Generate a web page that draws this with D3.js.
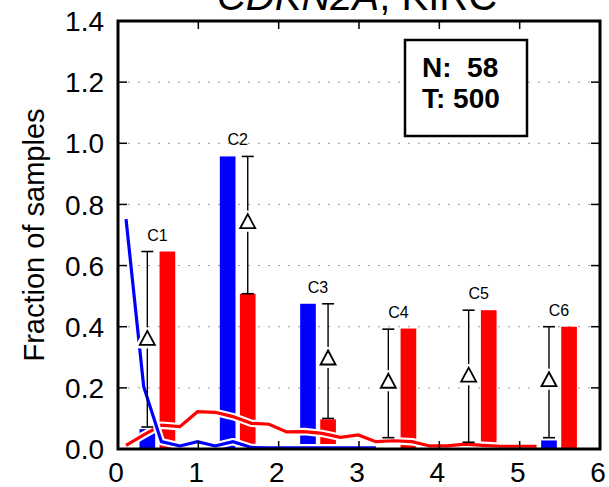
<!DOCTYPE html>
<html><head><meta charset="utf-8">
<script src="https://cdn.jsdelivr.net/npm/d3@7/dist/d3.min.js"></script>
<style>
html,body{margin:0;padding:0;background:#fff;}
svg{display:block;font-family:"Liberation Sans",Arial,Helvetica,sans-serif;}
</style></head>
<body><svg id="chart" width="609" height="487"></svg>
<script>
// ---- data ----
const categories = ["C1","C2","C3","C4","C5","C6"];
const blueBars = [0.065, 0.957, 0.475, 0.0, 0.0, 0.028];
const redBars  = [0.646, 0.508, 0.097, 0.394, 0.454, 0.400];
const errLow   = [0.072, 0.508, 0.100, 0.037, 0.022, 0.037];
const errHigh  = [0.646, 0.957, 0.475, 0.392, 0.454, 0.400];
const errMid   = [0.360, 0.742, 0.296, 0.220, 0.240, 0.225];
const blueLineX = [0.10,0.32,0.54,0.77,0.99,1.21,1.43,1.66,1.88,2.10,2.32,2.54,2.77,2.99,3.21];
const blueLineY = [0.752,0.204,0.024,0.010,0.024,0.010,0.024,0.005,0.004,0.004,0.004,0.004,0.004,0.004,0.004];
const redLineX = [0.10,0.32,0.54,0.77,0.99,1.21,1.43,1.66,1.88,2.10,2.32,2.54,2.77,2.99,3.21,3.43,3.66,3.88,4.10,4.32,4.54,4.77,4.99,5.21];
const redLineY = [0.012,0.046,0.078,0.073,0.122,0.120,0.106,0.084,0.081,0.056,0.057,0.051,0.038,0.046,0.024,0.027,0.024,0.010,0.010,0.016,0.012,0.009,0.009,0.009];
const yTicks = [0,0.2,0.4,0.6,0.8,1.0,1.2,1.4];
const xTicks = [0,1,2,3,4,5,6];
const titleItalic = "CDKN2A";
const titleRest = ", KIRC";
const yLabel = "Fraction of samples";
const legendLines = ["N:  58","T: 500"];

// ---- layout ----
const svg = d3.select("#chart");
const L=118, R=600, T=21, B=449;
const x = d3.scaleLinear().domain([0,6]).range([L,R]);
const y = d3.scaleLinear().domain([0,1.4]).range([B,T]);
const barW = 0.195;
const blueOff = 0.365, redOff = 0.615, labelOff = 0.49;

// gridlines
svg.append("g").selectAll("line").data(yTicks.filter(d=>d>0&&d<1.4)).join("line")
  .attr("x1",L).attr("x2",R).attr("y1",d=>y(d)).attr("y2",d=>y(d))
  .attr("stroke","#999").attr("stroke-width",1).attr("stroke-dasharray","2,8");

// bars
const bars = svg.append("g");
bars.selectAll("rect.b").data(blueBars).join("rect").attr("class","b")
  .attr("x",(d,i)=>x(i+blueOff-barW/2)).attr("width",x(barW)-x(0))
  .attr("y",d=>y(d)).attr("height",d=>y(0)-y(d)).attr("fill","#0000ff");
bars.selectAll("rect.r").data(redBars).join("rect").attr("class","r")
  .attr("x",(d,i)=>x(i+redOff-barW/2)).attr("width",x(barW)-x(0))
  .attr("y",d=>y(d)).attr("height",d=>y(0)-y(d)).attr("fill","#ff0000");

// lines with white halo
const line = d3.line().x(d=>x(d[0])).y(d=>y(d[1]));
const blueData = blueLineX.map((v,i)=>[v,blueLineY[i]]);
const redData = redLineX.map((v,i)=>[v,redLineY[i]]);
[[redData,"#ff0000"],[blueData,"#0000ff"]].forEach(([data,col])=>{
  svg.append("path").attr("d",line(data)).attr("fill","none").attr("stroke","#fff")
    .attr("stroke-width",7.5).attr("stroke-linejoin","round");
  svg.append("path").attr("d",line(data)).attr("fill","none").attr("stroke",col)
    .attr("stroke-width",3.2).attr("stroke-linejoin","miter");
});

// error bars
const eg = svg.append("g");
categories.forEach((c,i)=>{
  const ex = x(i + (blueBars[i] <= redBars[i] ? blueOff : redOff));
  eg.append("line").attr("x1",ex).attr("x2",ex).attr("y1",y(errLow[i])).attr("y2",y(errHigh[i]))
    .attr("stroke","#000").attr("stroke-width",1.4);
  [errLow[i],errHigh[i]].forEach(v=>{
    eg.append("line").attr("x1",ex-6).attr("x2",ex+6).attr("y1",y(v)).attr("y2",y(v))
      .attr("stroke","#000").attr("stroke-width",1.6);
  });
  const cy = y(errMid[i]);
  const tri = `M${ex},${cy-8} L${ex+7.5},${cy+6} L${ex-7.5},${cy+6} Z`;
  eg.append("path").attr("d",tri).attr("fill","#fff").attr("stroke","#fff").attr("stroke-width",7).attr("stroke-linejoin","round");
  eg.append("path").attr("d",tri).attr("fill","#fff").attr("stroke","#000").attr("stroke-width",1.8);
  // category label
  const top = Math.max(blueBars[i],redBars[i],errHigh[i]);
  svg.append("text").attr("x",x(i+labelOff)).attr("y",y(top)-11).attr("text-anchor","middle")
    .attr("font-size",16).attr("fill","#000").text(c);
});

// frame
svg.append("rect").attr("x",L).attr("y",T).attr("width",R-L).attr("height",B-T)
  .attr("fill","none").attr("stroke","#000").attr("stroke-width",3);

// ticks (inward)
const tg = svg.append("g").attr("stroke","#000").attr("stroke-width",1.5);
yTicks.filter(d=>d>0&&d<1.4).forEach(d=>{
  tg.append("line").attr("x1",L).attr("x2",L+9).attr("y1",y(d)).attr("y2",y(d));
  tg.append("line").attr("x1",R).attr("x2",R-9).attr("y1",y(d)).attr("y2",y(d));
});
xTicks.filter(d=>d>0&&d<6).forEach(d=>{
  tg.append("line").attr("x1",x(d)).attr("x2",x(d)).attr("y1",B).attr("y2",B-8);
  tg.append("line").attr("x1",x(d)).attr("x2",x(d)).attr("y1",T).attr("y2",T+8);
});

// tick labels
svg.append("g").selectAll("text").data(yTicks).join("text")
  .attr("x",104).attr("y",d=>y(d)).attr("dy","0.36em").attr("text-anchor","end")
  .attr("font-size",28).text(d=>d.toFixed(1));
svg.append("g").selectAll("text").data(xTicks).join("text")
  .attr("x",d=>x(d)-2).attr("y",482).attr("text-anchor","middle")
  .attr("font-size",28).text(d=>d);

// y label
svg.append("text").attr("transform",`translate(44,${(T+B)/2}) rotate(-90)`)
  .attr("text-anchor","middle").attr("font-size",29).text(yLabel);

// title
const title = svg.append("text").attr("x",357).attr("y",10).attr("text-anchor","middle").attr("font-size",40);
title.append("tspan").attr("font-style","italic").text(titleItalic);
title.append("tspan").text(titleRest);

// legend box
svg.append("rect").attr("x",405).attr("y",40).attr("width",122).attr("height",96)
  .attr("fill","#fff").attr("stroke","#000").attr("stroke-width",2.5);
svg.append("g").selectAll("text").data(legendLines).join("text")
  .attr("x",422).attr("y",(d,i)=>77+i*30.6).attr("font-size",28).attr("font-weight","bold")
  .style("white-space","pre").text(d=>d);
</script></body></html>
